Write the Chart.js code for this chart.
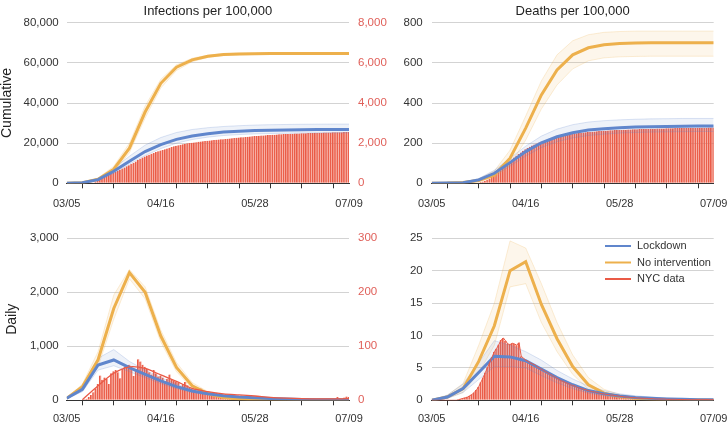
<!DOCTYPE html>
<html>
<head>
<meta charset="utf-8">
<title>Infections and deaths per 100,000</title>
<script src="https://cdn.jsdelivr.net/npm/chart.js@4.4.0/dist/chart.umd.min.js"></script>
<style>
  html, body { margin: 0; padding: 0; background: #fff; }
  #wrap { position: relative; width: 727px; height: 442px; overflow: hidden; }
  #wrap canvas { position: absolute; left: 0; }
</style>
</head>
<body>
<div id="wrap">
  <canvas id="cumInf" width="727" height="221" style="top:0"></canvas>
  <canvas id="cumDeath" width="727" height="221" style="top:0"></canvas>
  <canvas id="dailyInf" width="727" height="221" style="top:221px"></canvas>
  <canvas id="dailyDeath" width="727" height="221" style="top:221px"></canvas>
</div>
<script>
// x axis: days since 03/05, model output every 7 days
const weekDays = [0, 7, 14, 21, 28, 35, 42, 49, 56, 63, 70, 77, 84, 91, 98, 105, 112, 119, 126];
const tickDays = [0, 14, 28, 42, 56, 70, 84, 98, 112, 126];
const tickLabels = ['03/05', '', '', '04/16', '', '', '05/28', '', '', '07/09'];

// Cumulative infections per 100,000 (weekly model output)
const cumInfNoInt = [0, 300, 2000, 7000, 17500, 35500, 49800, 57800, 61500, 63300, 64100, 64400, 64550, 64620, 64660, 64690, 64700, 64700, 64700];
const cumInfNoIntHi = [0, 400, 2600, 8500, 20000, 38500, 51800, 59000, 62300, 63800, 64500, 64850, 64950, 65000, 65000, 65000, 65000, 65000, 65000];
const cumInfNoIntLo = [0, 200, 1500, 5800, 15200, 32500, 47500, 56200, 60600, 62700, 63600, 64000, 64200, 64300, 64300, 64350, 64350, 64400, 64400];
const cumInfLock = [0, 300, 1800, 6000, 11000, 15800, 19300, 21900, 23600, 24700, 25500, 25950, 26250, 26450, 26600, 26700, 26750, 26800, 26800];
const cumInfLockHi = [0, 400, 2300, 7500, 13500, 19000, 22800, 25300, 26800, 27700, 28300, 28700, 29000, 29200, 29300, 29400, 29450, 29500, 29500];
const cumInfLockLo = [0, 250, 1400, 5000, 9500, 13800, 17300, 20000, 21800, 23000, 23800, 24300, 24600, 24800, 24900, 25000, 25050, 25100, 25100];

// NYC confirmed cases per 100,000, cumulative (daily, right axis)
const nycCumInf = [
  0, 0, 0, 0, 0, 0, 0,
  1, 2, 4, 8, 20, 45, 95,
  160, 215, 265, 315, 365, 420, 470,
  520, 575, 630, 680, 735, 790, 845,
  900, 960, 1025, 1090, 1155, 1220, 1280,
  1330, 1380, 1425, 1470, 1515, 1555, 1595,
  1630, 1665, 1700, 1735, 1770, 1805, 1840,
  1870, 1895, 1920, 1945, 1970, 1990, 2005,
  2020, 2035, 2050, 2065, 2080, 2095, 2110,
  2120, 2132, 2144, 2156, 2168, 2180, 2190,
  2200, 2212, 2224, 2236, 2248, 2260, 2270,
  2280, 2290, 2300, 2310, 2320, 2330, 2340,
  2350, 2359, 2368, 2377, 2386, 2395, 2403,
  2410, 2417, 2424, 2431, 2438, 2444, 2450,
  2455, 2460, 2465, 2470, 2475, 2480, 2485,
  2490, 2494, 2498, 2502, 2506, 2510, 2514,
  2518, 2521, 2524, 2527, 2530, 2533, 2536,
  2539, 2541, 2543, 2545, 2547, 2550, 2553, 2556
];

// Cumulative deaths per 100,000
const cumDeathNoInt = [0, 1, 4, 14, 42, 125, 275, 440, 565, 640, 675, 690, 696, 699, 700, 700, 700, 700, 700];
const cumDeathNoIntHi = [0, 2, 7, 22, 62, 165, 335, 510, 640, 710, 740, 752, 756, 758, 758, 758, 758, 758, 758];
const cumDeathNoIntLo = [0, 1, 2, 8, 28, 90, 215, 370, 490, 570, 610, 625, 630, 632, 633, 633, 633, 633, 633];
const cumDeathLock = [0, 1, 3, 17, 50, 103, 158, 202, 232, 252, 265, 272, 277, 280, 282, 283, 284, 285, 286];
const cumDeathLockHi = [0, 1, 5, 24, 65, 125, 185, 235, 270, 292, 305, 312, 316, 319, 321, 322, 323, 323, 323];
const cumDeathLockLo = [0, 0, 2, 11, 38, 85, 135, 178, 207, 226, 238, 245, 250, 253, 255, 256, 257, 258, 258];

const nycCumDeath = [
  0, 0, 0, 0, 0, 0, 0,
  0, 0, 0, 0, 0, 0, 0,
  0, 0, 0, 1, 1, 2, 3,
  4, 6, 9, 13, 18, 24, 32,
  40, 49, 58, 68, 78, 89, 99,
  109, 119, 128, 137, 146, 154, 162,
  169, 176, 182, 188, 193, 198, 203,
  207, 211, 215, 219, 222, 225, 228,
  231, 234, 236, 238, 240, 242, 244,
  246, 247, 249, 250, 252, 253, 254,
  255, 256, 257, 258, 259, 260, 261,
  262, 262, 263, 264, 264, 265, 265,
  266, 266, 267, 267, 268, 268, 269,
  269, 269, 270, 270, 271, 271, 271,
  272, 272, 272, 273, 273, 273, 273,
  274, 274, 274, 274, 275, 275, 275,
  275, 275, 276, 276, 276, 276, 276,
  277, 277, 277, 277, 277, 278, 278, 278
];

// Daily infections per 100,000
const dailyInfNoInt = [37, 250, 750, 1700, 2364, 2000, 1190, 610, 270, 125, 52, 22, 9, 4, 2, 1, 0, 0, 0];
const dailyInfNoIntHi = [45, 300, 900, 1950, 2420, 2100, 1300, 700, 330, 160, 70, 30, 12, 5, 2, 1, 0, 0, 0];
const dailyInfNoIntLo = [30, 200, 620, 1500, 2250, 1880, 1080, 530, 220, 95, 38, 15, 6, 3, 1, 0, 0, 0, 0];
const dailyInfLock = [37, 204, 654, 747, 605, 481, 358, 253, 173, 123, 86, 62, 45, 32, 23, 16, 11, 8, 6];
const dailyInfLockHi = [45, 260, 780, 940, 720, 560, 420, 300, 210, 150, 105, 77, 56, 40, 29, 20, 14, 10, 8];
const dailyInfLockLo = [30, 160, 560, 640, 530, 420, 310, 215, 145, 100, 70, 50, 36, 25, 18, 12, 9, 6, 4];

// NYC daily confirmed cases per 100,000 (right axis) and its weekly average
const nycDailyInf = [
  0, 0, 0, 0, 0, 0, 1,
  1, 2, 3, 6, 10, 15, 22,
  30, 46, 38, 42, 40, 30, 50,
  54, 56, 52, 41, 58, 62, 64,
  66, 60, 45, 58, 76, 72, 66,
  62, 58, 52, 48, 56, 50, 44,
  46, 42, 34, 40, 48, 38, 36,
  35, 32, 26, 30, 34, 28, 24,
  22, 20, 16, 19, 22, 17, 15,
  14, 15, 12, 11, 14, 12, 10,
  10, 11, 9, 8, 10, 9, 8,
  8, 9, 7, 6, 8, 7, 6,
  6, 7, 5, 5, 6, 5, 4,
  4, 5, 4, 3, 4, 4, 3,
  3, 4, 3, 3, 3, 3, 3,
  3, 3, 3, 2, 3, 3, 2,
  2, 3, 2, 2, 3, 2, 2,
  2, 3, 6, 4, 3, 5, 7, 6
];
const nycDailyInfAvg = [null, 1, 27, 50, 62, 59, 47, 35, 22, 16, 12, 10, 8, 5.5, 4, 3, 2.6, 2.5, 3];

// Daily deaths per 100,000
const dailyDeathNoInt = [0, 0.5, 1.8, 6, 11.5, 20, 21.4, 14.8, 9.5, 5.2, 2.4, 1.1, 0.6, 0.3, 0.15, 0.08, 0.05, 0.03, 0.02];
const dailyDeathNoIntHi = [0, 0.8, 2.6, 8.5, 15, 24.6, 23.5, 18, 12, 7, 3.5, 1.7, 0.9, 0.45, 0.25, 0.12, 0.08, 0.05, 0.03];
const dailyDeathNoIntLo = [0, 0.3, 1.2, 4.2, 8.5, 17.5, 18, 12, 7.5, 4, 1.7, 0.7, 0.35, 0.18, 0.09, 0.05, 0.03, 0.02, 0.01];
const dailyDeathLock = [0, 0.5, 1.8, 4.3, 6.8, 6.7, 6.1, 4.8, 3.5, 2.4, 1.5, 1.0, 0.67, 0.45, 0.3, 0.2, 0.15, 0.1, 0.07];
const dailyDeathLockHi = [0, 0.8, 2.5, 5.8, 9.2, 8.5, 7.5, 6.2, 4.6, 3.3, 2.2, 1.5, 1.0, 0.7, 0.5, 0.35, 0.25, 0.18, 0.12];
const dailyDeathLockLo = [0, 0.3, 1.2, 3.2, 5.2, 5.2, 5.0, 3.8, 2.7, 1.8, 1.1, 0.7, 0.45, 0.3, 0.2, 0.13, 0.09, 0.06, 0.04];

const nycDailyDeath = [
  0, 0, 0, 0, 0, 0, 0,
  0, 0, 0, 0, 0, 0.1, 0.2,
  0.3, 0.4, 0.5, 0.7, 0.9, 1.2, 1.6,
  2.1, 2.8, 3.5, 4.3, 5.1, 5.9, 6.7,
  7.5, 8.0, 8.6, 9.3, 9.6, 9.2, 8.7,
  8.6, 8.8, 8.7, 8.5, 8.9, 6.8, 6.5,
  6.2, 6.0, 5.8, 5.6, 5.5, 5.2, 5.0,
  4.8, 4.6, 4.4, 4.2, 4.0, 3.8, 3.6,
  3.4, 3.2, 3.0, 2.9, 2.7, 2.6, 2.4,
  2.3, 2.2, 2.0, 1.9, 1.8, 1.7, 1.6,
  1.5, 1.4, 1.3, 1.3, 1.2, 1.1, 1.0,
  1.0, 0.9, 0.9, 0.8, 0.8, 0.7, 0.7,
  0.6, 0.6, 0.5, 0.5, 0.5, 0.4, 0.4,
  0.4, 0.35, 0.35, 0.3, 0.3, 0.3, 0.25,
  0.25, 0.25, 0.2, 0.2, 0.2, 0.2, 0.2,
  0.15, 0.15, 0.15, 0.15, 0.15, 0.12, 0.12,
  0.12, 0.12, 0.1, 0.1, 0.1, 0.1, 0.1,
  0.1, 0.1, 0.1, 0.1, 0.1, 0.1, 0.1, 0.1
];

const legendLabels = ['Lockdown', 'No intervention', 'NYC data'];

// colours
const BLUE = '#6086cc';
const BLUE_RGB = '96,134,204';
const ORANGE = '#edb04c';
const ORANGE_RGB = '237,176,76';
const RED = '#ea5a46';
const PINK = 'rgba(240,120,100,0.45)';
const RED_TEXT = '#e0605a';
const TEXT = '#333';
const FONT = "'Liberation Sans', Arial, Helvetica, sans-serif";

Chart.defaults.font.family = FONT;
Chart.defaults.color = TEXT;
Chart.defaults.animation = false;

const pts = (xs, ys) => ys.map((y, i) => ({ x: xs[i], y: y }));
const daily = ys => ys.map((y, i) => ({ x: i, y: y }));

function band(hi, lo, rgb) {
    return [
        { type: 'line', data: pts(weekDays, hi), borderColor: 'rgba(' + rgb + ',0.28)', borderWidth: 0.8,
          pointRadius: 0, fill: false, order: 5 },
        { type: 'line', data: pts(weekDays, lo), borderColor: 'rgba(' + rgb + ',0.28)', borderWidth: 0.8,
          pointRadius: 0, fill: '-1', backgroundColor: 'rgba(' + rgb + ',0.11)', order: 5 }
    ];
}

function mainLine(label, ys, color) {
    return { type: 'line', label: label, data: pts(weekDays, ys), borderColor: color, borderWidth: 3,
             pointRadius: 0, fill: false, order: 2 };
}

function nycBars(ys, axis) {
    return { type: 'bar', label: 'NYC data', data: daily(ys), backgroundColor: PINK, borderColor: RED,
             borderWidth: { left: 1, top: 0, right: 0, bottom: 0 }, borderSkipped: false,
             barPercentage: 1, categoryPercentage: 1, yAxisID: axis, order: 10 };
}

function xScale(height, pad) {
    return {
        type: 'linear', min: 0, max: 126, offset: false,
        afterFit: s => { s.height = height; s.paddingLeft = 0; s.paddingRight = 0; },
        grid: { drawOnChartArea: false, drawTicks: true, tickLength: 5, color: TEXT },
        border: { display: true, color: TEXT, width: 1 },
        ticks: { stepSize: 14, autoSkip: false, maxRotation: 0, padding: pad, color: TEXT, font: { size: 11 },
                 callback: v => tickLabels[tickDays.indexOf(v)] }
    };
}

function yScale(max, step, width, pad, title, titlePad) {
    return {
        type: 'linear', position: 'left', min: 0, max: max,
        afterFit: s => { s.width = width; s.paddingTop = 0; s.paddingBottom = 0; },
        grid: { color: '#d3d3d3', lineWidth: 1, drawTicks: false },
        border: { display: false },
        ticks: { stepSize: step, padding: pad, color: TEXT, font: { size: 11.5 },
                 callback: v => v.toLocaleString('en-US') },
        title: { display: !!title, text: title, font: { size: 14, lineHeight: 1 }, color: '#222',
                 padding: { top: titlePad, bottom: 0 } }
    };
}

function y2Scale(max, step, width) {
    return {
        type: 'linear', position: 'right', min: 0, max: max,
        afterFit: s => { s.width = width; s.paddingTop = 0; s.paddingBottom = 0; },
        grid: { drawOnChartArea: false, drawTicks: false },
        border: { display: false },
        ticks: { stepSize: step, padding: 9, color: RED_TEXT, font: { size: 11.5 },
                 callback: v => v.toLocaleString('en-US') }
    };
}

// title centred over the plot area
const panelTitle = {
    id: 'panelTitle',
    afterDraw(chart, args, opts) {
        if (!opts.text) return;
        const ctx = chart.ctx;
        const area = chart.chartArea;
        ctx.save();
        ctx.font = '13px ' + FONT;
        ctx.fillStyle = '#222';
        ctx.textAlign = 'center';
        ctx.textBaseline = 'middle';
        ctx.fillText(opts.text, (area.left + area.right) / 2, opts.y);
        ctx.restore();
    }
};

// legend drawn inside the plot area (bottom right panel)
const lineLegend = {
    id: 'lineLegend',
    afterDraw(chart, args, opts) {
        if (!opts.show) return;
        const ctx = chart.ctx;
        const area = chart.chartArea;
        const colors = [BLUE, ORANGE, RED];
        const x0 = area.right - 108.7;
        ctx.save();
        ctx.font = '11px ' + FONT;
        ctx.textBaseline = 'middle';
        legendLabels.forEach((label, i) => {
            const y = area.top + 7.7 + i * 16.5;
            ctx.strokeStyle = colors[i];
            ctx.lineWidth = 2;
            ctx.beginPath();
            ctx.moveTo(x0, y);
            ctx.lineTo(x0 + 26, y);
            ctx.stroke();
            ctx.fillStyle = TEXT;
            ctx.fillText(label, x0 + 32, y);
        });
        ctx.restore();
    }
};

function makeChart(id, datasets, scales, padding, plugOpts) {
    new Chart(document.getElementById(id), {
        type: 'line',
        data: { datasets: datasets },
        options: {
            responsive: false,
            animation: false,
            layout: { padding: padding },
            scales: scales,
            plugins: {
                legend: { display: false },
                tooltip: { enabled: false },
                panelTitle: plugOpts.title || {},
                lineLegend: plugOpts.legend || {}
            }
        },
        plugins: [panelTitle, lineLegend]
    });
}

// Top left: cumulative infections
makeChart('cumInf', [
    nycBars(nycCumInf, 'y2'),
    ...band(cumInfLockHi, cumInfLockLo, BLUE_RGB),
    ...band(cumInfNoIntHi, cumInfNoIntLo, ORANGE_RGB),
    mainLine('Lockdown', cumInfLock, BLUE),
    mainLine('No intervention', cumInfNoInt, ORANGE)
], {
    x: xScale(37.7, 9.5),
    y: yScale(80000, 20000, 66.7, 8, 'Cumulative', 0),
    y2: y2Scale(8000, 2000, 378)
}, { top: 22.7, left: 0, right: 0, bottom: 0 }, { title: { text: 'Infections per 100,000', y: 11 } });

// Top right: cumulative deaths
makeChart('cumDeath', [
    nycBars(nycCumDeath, 'y'),
    ...band(cumDeathLockHi, cumDeathLockLo, BLUE_RGB),
    ...band(cumDeathNoIntHi, cumDeathNoIntLo, ORANGE_RGB),
    mainLine('Lockdown', cumDeathLock, BLUE),
    mainLine('No intervention', cumDeathNoInt, ORANGE)
], {
    x: xScale(37.7, 9.5),
    y: yScale(800, 200, 431.7, 9, '', 0)
}, { top: 22.7, left: 0, right: 13.3, bottom: 0 }, { title: { text: 'Deaths per 100,000', y: 11 } });

// Bottom left: daily infections
makeChart('dailyInf', [
    nycBars(nycDailyInf, 'y2'),
    ...band(dailyInfLockHi, dailyInfLockLo, BLUE_RGB),
    ...band(dailyInfNoIntHi, dailyInfNoIntLo, ORANGE_RGB),
    mainLine('Lockdown', dailyInfLock, BLUE),
    mainLine('No intervention', dailyInfNoInt, ORANGE),
    { type: 'line', label: 'NYC data', data: pts(weekDays, nycDailyInfAvg), borderColor: RED, borderWidth: 1.3,
      pointRadius: 0, tension: 0.3, fill: false, yAxisID: 'y2', order: 0 }
], {
    x: xScale(41.7, 7),
    y: yScale(3000, 1000, 66.7, 8, 'Daily', 5),
    y2: y2Scale(300, 100, 378)
}, { top: 17.3, left: 0, right: 0, bottom: 0 }, {});

// Bottom right: daily deaths
makeChart('dailyDeath', [
    nycBars(nycDailyDeath, 'y'),
    ...band(dailyDeathLockHi, dailyDeathLockLo, BLUE_RGB),
    ...band(dailyDeathNoIntHi, dailyDeathNoIntLo, ORANGE_RGB),
    mainLine('Lockdown', dailyDeathLock, BLUE),
    mainLine('No intervention', dailyDeathNoInt, ORANGE),
    { type: 'line', label: 'NYC data', data: daily(nycDailyDeath), borderColor: RED, borderWidth: 1,
      pointRadius: 0, fill: false, order: 0 }
], {
    x: xScale(41.7, 7),
    y: yScale(25, 5, 431.7, 9, '', 0)
}, { top: 17.3, left: 0, right: 13.3, bottom: 0 }, { legend: { show: true } });
</script>
</body>
</html>
